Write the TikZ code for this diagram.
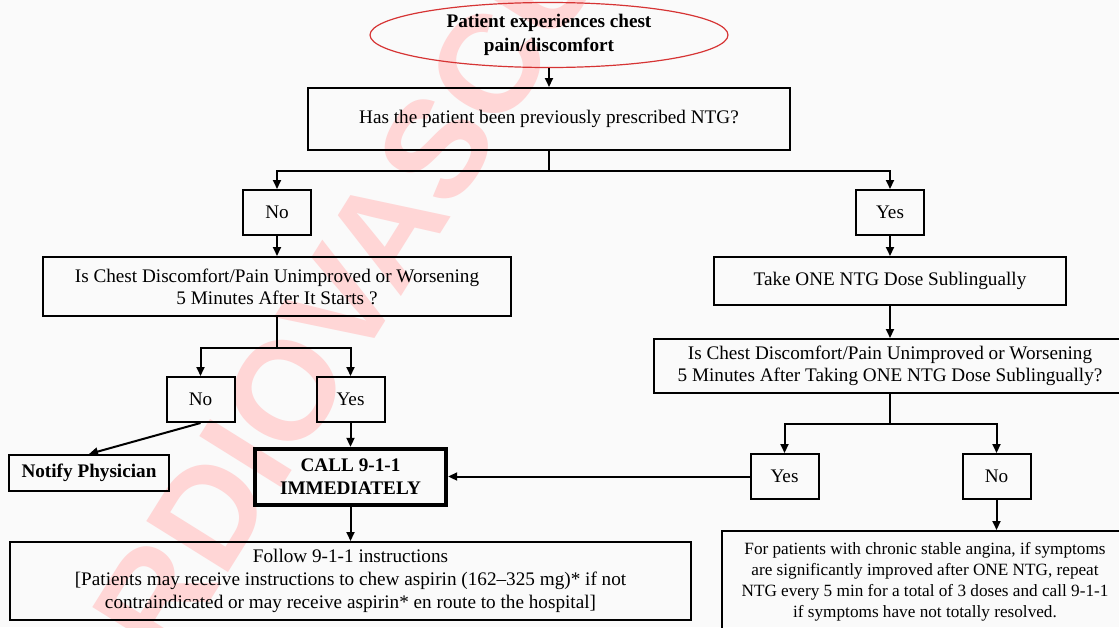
\documentclass[tikz,border=0pt]{standalone}
\usepackage{fontspec}
\setmainfont{Liberation Serif}
\newfontfamily\wmfont{Liberation Sans}
\usepackage{xcolor}
\usepackage{tikz}
\usetikzlibrary{positioning,arrows.meta,shapes.geometric}
\definecolor{wmpink}{RGB}{255,214,214}
\definecolor{ovalred}{RGB}{214,52,52}

\begin{document}
\begin{tikzpicture}[x=0.5pt, y=-0.5pt, >={Triangle[length=4.5pt,width=4pt]},
		every node/.style={font=\fontsize{9.6}{11}\selectfont, align=center},
		onset/.style={ellipse, draw=ovalred, line width=0.6pt, minimum width=179pt, minimum height=32.5pt, inner sep=0pt, font=\fontsize{9.6}{11.5}\selectfont\bfseries},
		question/.style={draw, line width=1pt, inner sep=2pt},
		answer/.style={draw, line width=1pt, minimum width=34pt, minimum height=22.5pt},
		emergency/.style={draw, line width=2.2pt, minimum width=95.5pt, minimum height=28pt, font=\fontsize{9.6}{11.5}\selectfont\bfseries},
		flow/.style={->, line width=1pt},
		watermark/.style={text=wmpink, rotate=58, font=\fontsize{70}{70}\wmfont\bfseries}]
		\clip (0,0) rectangle (1119,627);
		\fill[white!98!black] (0,0) rectangle (1119,627);
		\node[watermark] (wm) at (295,375) {CARDIOVASCU};

		\node[onset] (chest) at (549,35) {\raisebox{-2.5pt}{\shortstack{Patient experiences chest\\pain/discomfort}}};
		\node[question, minimum width=241pt, minimum height=31pt] (prescribed) at (549,119) {Has the patient been previously prescribed NTG?};

		\node[answer] (noA) at (277,212.5) {No};
		\node[answer] (yesA) at (890,212.5) {Yes};
		\node[question, minimum width=234pt, minimum height=29.5pt] (worseA) at (277,286.5) {Is Chest Discomfort/Pain Unimproved or Worsening\\5 Minutes After It Starts ?};
		\node[question, minimum width=176pt, minimum height=24pt] (takeone) at (890,281) {Take ONE NTG Dose Sublingually};
		\node[question, minimum width=236pt, minimum height=27pt] (worseB) at (890,366) {Is Chest Discomfort/Pain Unimproved or Worsening\\5 Minutes After Taking ONE NTG Dose Sublingually?};

		\node[answer] (noB) at (200.5,399.5) {No};
		\node[answer] (yesB) at (350.5,399.5) {Yes};
		\node[question, minimum width=80pt, minimum height=18pt, font=\fontsize{9.6}{11}\selectfont\bfseries] (notify) at (89,473) {Notify Physician};
		\node[emergency] (call) at (350.5,477) {CALL 9-1-1\\IMMEDIATELY};
		\node[answer] (yesC) at (784.5,476.5) {Yes};
		\node[answer] (noC) at (996.5,476.5) {No};

		\node[question, minimum width=340.5pt, minimum height=39pt, font=\fontsize{9.6}{11.5}\selectfont] (follow) at (350.5,581) {Follow 9-1-1 instructions\\{[}Patients may receive instructions to chew aspirin (162--325 mg)* if not\\contraindicated or may receive aspirin* en route to the hospital]};
		\node[question, minimum width=203pt, minimum height=50.5pt, font=\fontsize{8.6}{10.5}\selectfont] (stable) at (925,581.5) {For patients with chronic stable angina, if symptoms\\are significantly improved after ONE NTG, repeat\\NTG every 5 min for a total of 3 doses and call 9-1-1\\if symptoms have not totally resolved.};

		\draw[flow] (chest) -- (prescribed);
		\draw[flow] (prescribed.south) -- ++(0,20) coordinate (splitA) -| (noA.north);
		\draw[flow] (splitA) -| (yesA.north);
		\draw[flow] (noA) -- (worseA);
		\draw[flow] (yesA) -- (takeone);
		\draw[flow] (takeone) -- (worseB);

		\draw[flow] (worseA.south) -- ++(0,31) coordinate (splitB) -| (noB.north);
		\draw[flow] (splitB) -| (yesB.north);
		\draw[flow] (worseB.south) -- ++(0,30) coordinate (splitC) -| (yesC.north);
		\draw[flow] (splitC) -| (noC.north);

		\draw[flow] (noB.south) -- (notify.north);
		\draw[flow] (yesB) -- (call);
		\draw[flow] (yesC.west) -- (yesC.west -| call.east);
		\draw[flow] (call) -- (follow);
		\draw[flow] (noC.south) -- (noC.south |- stable.north);
	\end{tikzpicture}
\end{document}
